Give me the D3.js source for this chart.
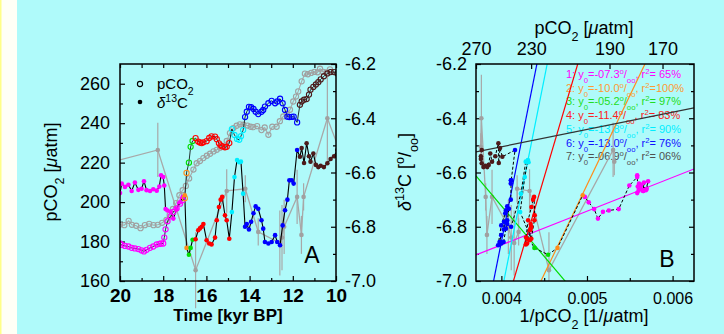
<!DOCTYPE html>
<html>
<head>
<meta charset="utf-8">
<script src="https://cdn.jsdelivr.net/npm/d3@7"></script>
<style>
  body { margin: 0; background: #affafa; }
  svg { display: block; font-family: "Liberation Sans", Arial, sans-serif; }
</style>
</head>
<body>
<svg id="chart" width="724" height="334"></svg>
<script>
// ---- values ----
// seven colour-coded intervals: time [kyr BP], pCO2 [uatm], d13C [permil]
const t1 = [20.0, 19.92, 19.77, 19.61, 19.46, 19.31, 19.15, 19.0, 18.89, 18.77, 18.61, 18.46, 18.3, 18.18, 18.1, 18.0, 17.95, 17.89, 17.8, 17.66, 17.53, 17.38, 17.22, 17.1];
const co2_1 = [179, 178.3, 177.8, 177.5, 176.8, 176.5, 176.2, 175.5, 175, 175.8, 176.8, 177.5, 178.5, 178.8, 179, 179, 182, 186.2, 190.3, 192.8, 195, 196.7, 199.2, 201];
const d13c_1 = [-6.676, -6.641, -6.653, -6.645, -6.668, -6.637, -6.664, -6.66, -6.632, -6.665, -6.668, -6.662, -6.667, -6.652, -6.61, -6.617, -6.648, -6.735, -6.74, -6.745, -6.77, -6.735, -6.71, -6.69];

const t2 = [17.0, 16.92];
const co2_2 = [202, 214.8];
const d13c_2 = [-6.684, -6.878];

const t3 = [16.81, 16.73, 16.64];
const co2_3 = [220, 228, 231];
const d13c_3 = [-6.903, -6.878, -6.848];

const t4 = [16.5, 16.38, 16.3, 16.22, 16.14, 15.99, 15.87, 15.76, 15.6, 15.52, 15.42, 15.34, 15.27, 15.14, 15.06, 14.94];
const co2_4 = [232.4, 230.7, 230.2, 229.9, 230.3, 230.9, 232.5, 233.3, 233.2, 231.9, 229.8, 228.8, 228.2, 227.8, 228, 229.9];
const d13c_4 = [-6.846, -6.813, -6.806, -6.80, -6.79, -6.85, -6.862, -6.865, -6.84, -6.776, -6.727, -6.70, -6.69, -6.758, -6.776, -6.844];

const t5 = [14.82, 14.7, 14.58, 14.48, 14.4, 14.3];
const co2_5 = [237, 234, 232, 231.6, 233.4, 236.5];
const d13c_5 = [-6.746, -6.617, -6.554, -6.562, -6.56, -6.678];

const t6 = [14.21, 14.13, 14.03, 13.93, 13.82, 13.72, 13.6, 13.45, 13.37, 13.29, 13.13, 12.98, 12.82, 12.72, 12.59, 12.47, 12.36, 12.25, 12.16, 12.05, 11.96, 11.8];
const co2_6 = [243.1, 245.8, 248.3, 248.1, 247.2, 245.8, 244.6, 245.8, 246.7, 248.4, 250.1, 251.3, 250.1, 251, 252.4, 250.1, 246.7, 243.3, 243.1, 243.2, 243.3, 240.4];
const d13c_6 = [-6.80, -6.79, -6.81, -6.782, -6.75, -6.725, -6.734, -6.776, -6.807, -6.856, -6.862, -6.856, -6.831, -6.856, -6.868, -6.795, -6.739, -6.70, -6.629, -6.629, -6.641, -6.517];

const t7 = [11.67, 11.59, 11.48, 11.36, 11.25, 11.18, 11.05, 10.93, 10.82, 10.71, 10.56, 10.4, 10.25, 10.09, 9.94];
const co2_7 = [249.3, 251, 251.9, 252.2, 254.5, 257, 258.4, 259.6, 260.8, 262.2, 263.8, 265.2, 265.9, 265.9, 265.2];
const d13c_7 = [-6.542, -6.51, -6.565, -6.492, -6.54, -6.56, -6.53, -6.572, -6.58, -6.575, -6.58, -6.566, -6.55, -6.54, -6.517];

const segColors = ["#ff00ff", "#ff8c1a", "#00dd00", "#ff0000", "#00eeff", "#0000ff", "#4d1a1a"];

// second (grey) pCO2 record
const greyCo2Time = [20.0, 19.8, 19.6, 19.45, 19.25, 19.05, 18.85, 18.65, 18.45, 18.25, 18.05, 17.85, 17.7, 17.55, 17.4, 17.25, 17.1, 16.95, 16.8, 16.6, 16.45, 16.3, 16.14, 15.98, 15.83, 15.67, 15.52, 15.37, 15.22, 15.06, 14.91, 14.75, 14.6, 14.45, 14.29, 14.1, 13.95, 13.83, 13.65, 13.45, 13.3, 13.13, 12.95, 12.75, 12.6, 12.44, 12.28, 12.13, 11.98, 11.85, 11.75, 11.59, 11.44, 11.3, 11.15, 11.0, 10.85, 10.74, 10.6, 10.45, 10.28];
const greyCo2 = [188.6, 188.3, 190.5, 188.5, 188.0, 186.8, 188.3, 189.0, 188.3, 188.5, 189.5, 191, 193.5, 196.5, 199.5, 203.5, 206, 208.2, 212, 216.5, 219.7, 220.8, 222.3, 223.5, 224.5, 225.7, 226.5, 227.5, 228.2, 231, 235, 237.5, 238.7, 239.4, 239.2, 238.8, 238.2, 238, 238.5, 236.5, 237.8, 234.1, 238.2, 238.2, 241, 243.4, 244.8, 246.8, 251, 253.5, 256.1, 261.2, 265.1, 264.8, 265.5, 266, 265.8, 267.6, 266, 265.8, 267.3];

// second (grey) d13C record with error bars, and its pCO2 for panel B
const greyD13cTime = [20.3, 18.25, 16.5, 15.06, 14.2, 13.6, 12.6, 12.5, 12.4, 11.8, 11.6, 11.5, 10.4, 9.9];
const greyD13c = [-6.56, -6.517, -6.96, -6.668, -6.66, -6.819, -6.86, -6.84, -6.80, -6.69, -6.83, -6.69, -6.40, -6.505];
const greyD13cErr = [0.05, 0.10, 0.14, 0.08, 0.05, 0.05, 0.12, 0.12, 0.10, 0.10, 0.07, 0.05, 0.16, 0.05];
const greyD13cCo2 = [188, 188.5, 219.5, 231, 239, 238, 241, 243, 245, 257, 261, 262, 265.5, 266];

// regression lines of panel B: d13C = intercept + slope * (1/pCO2)
const fitSlope = [124.5, 658.4, -372.5, 1065, 1581, 1581, 63.7];
const fitIntercept = [-7.365, -9.938, -5.233, -11.41, -13.37, -13.18, -6.760];
const fitY0Text = ["-07.3", "-10.0", "-05.2", "-11.4", "-13.8", "-13.0", "-06.9"];
const fitR2Text = [" 65", "100", " 97", " 83", " 90", " 76", " 06"];
const fitColors = ["#ff00ff", "#ff8c1a", "#00dd00", "#ff0000", "#00eeff", "#0000ff", "#333333"];
const fitTextColors = ["#ff00ff", "#ff9933", "#22dd22", "#ff2020", "#00eeff", "#1010ff", "#505050"];

const timeTicks = [20, 18, 16, 14, 12, 10];
const co2Ticks = [160, 180, 200, 220, 240, 260];
const d13cTicks = [-7.0, -6.8, -6.6, -6.4, -6.2];
const invTicks = [0.004, 0.005, 0.006];
const co2TopTicks = [270, 230, 190, 170];

const segments = [
  [t1, co2_1, d13c_1], [t2, co2_2, d13c_2], [t3, co2_3, d13c_3], [t4, co2_4, d13c_4],
  [t5, co2_5, d13c_5], [t6, co2_6, d13c_6], [t7, co2_7, d13c_7]
].map(([t, c, d], i) => ({
  color: segColors[i],
  pts: t.map((tt, j) => ({ t: tt, co2: c[j], d: d[j] }))
}));
const allPts = segments.flatMap(s => s.pts);
const greyCo2Pts = greyCo2Time.map((t, i) => ({ t: t, co2: greyCo2[i] }));
const greyD13Pts = greyD13cTime.map((t, i) => ({ t: t, d: greyD13c[i], err: greyD13cErr[i], co2: greyD13cCo2[i] }));

// ---- drawing ----
const W = 724, H = 334;
const FONT = '"Liberation Sans", Arial, sans-serif';
const svg = d3.select("#chart");

svg.append("rect").attr("width", W).attr("height", H).attr("fill", "#affafa");
svg.append("rect").attr("width", 17).attr("height", H).attr("fill", "#fffff6");
svg.append("rect").attr("width", 1.5).attr("height", H).attr("fill", "#ffff88");

// text with sub/superscripts: parts = [[string, kind]]
function rich(sel, parts) {
  parts.forEach(([s, kind]) => {
    const ts = sel.append("tspan").text(s);
    if (kind === "sub") ts.attr("baseline-shift", "sub").attr("font-size", "70%");
    if (kind === "sup") ts.attr("baseline-shift", "super").attr("font-size", "70%");
    if (kind === "it") ts.attr("font-style", "italic");
  });
  return sel;
}

function styleAxis(g, size, weight) {
  g.select(".domain").remove();
  g.attr("font-family", FONT).attr("font-size", size);
  g.selectAll("line").attr("stroke", "#000").attr("stroke-width", 1.2);
  g.selectAll("text").attr("fill", "#000").attr("font-weight", weight || "normal");
}

const A = { l: 120, r: 336, t: 64, b: 281 };
const B = { l: 476, r: 694, t: 64, b: 281 };

const xA = d3.scaleLinear().domain([20, 10]).range([A.l, A.r]);
const yCo2 = d3.scaleLinear().domain([160, 270]).range([A.b, A.t]);
const yD13 = d3.scaleLinear().domain([-7.0, -6.2]).range([A.b, A.t]);

const xB = d3.scaleLinear().domain([1 / 270, 1 / 160]).range([B.l, B.r]);
const yB = d3.scaleLinear().domain([-7.0, -6.2]).range([B.b, B.t]);

const defs = svg.append("defs");
defs.append("clipPath").attr("id", "clipA").append("rect")
  .attr("x", A.l).attr("y", A.t).attr("width", A.r - A.l).attr("height", A.b - A.t);
defs.append("clipPath").attr("id", "clipB").append("rect")
  .attr("x", B.l).attr("y", B.t).attr("width", B.r - B.l).attr("height", B.b - B.t);

const fmt1 = d => d.toFixed(1);

// ===== panel A =====
const gA = svg.append("g");

// axes
gA.append("g").attr("transform", `translate(0,${A.b})`)
  .call(d3.axisBottom(xA).tickValues(timeTicks).tickSize(-5).tickPadding(8).tickFormat(d3.format("d")))
  .call(g => styleAxis(g, 19, "bold"));
gA.append("g").attr("transform", `translate(0,${A.b})`)
  .call(d3.axisBottom(xA).tickValues(d3.range(19, 10, -2)).tickSize(-3).tickFormat(""))
  .call(g => styleAxis(g, 10));
gA.append("g").attr("transform", `translate(0,${A.t})`)
  .call(d3.axisTop(xA).tickValues(d3.range(20, 9, -1)).tickSize(-4).tickFormat(""))
  .call(g => styleAxis(g, 10));
gA.append("g").attr("transform", `translate(${A.l},0)`)
  .call(d3.axisLeft(yCo2).tickValues(co2Ticks).tickSize(-5).tickPadding(10).tickFormat(d3.format("d")))
  .call(g => styleAxis(g, 18));
gA.append("g").attr("transform", `translate(${A.l},0)`)
  .call(d3.axisLeft(yCo2).tickValues(d3.range(170, 270, 20)).tickSize(-3).tickFormat(""))
  .call(g => styleAxis(g, 10));
gA.append("g").attr("transform", `translate(${A.r},0)`)
  .call(d3.axisRight(yD13).tickValues(d13cTicks).tickSize(-5).tickPadding(9).tickFormat(fmt1))
  .call(g => styleAxis(g, 18));
gA.append("g").attr("transform", `translate(${A.r},0)`)
  .call(d3.axisRight(yD13).tickValues([-6.9, -6.7, -6.5, -6.3]).tickSize(-3).tickFormat(""))
  .call(g => styleAxis(g, 10));

// grey error bars (drawn unclipped, like the original)
gA.append("g").selectAll("line")
  .data(greyD13Pts.filter(p => p.t <= 20 && p.t >= 10))
  .join("line")
  .attr("x1", p => xA(p.t)).attr("x2", p => xA(p.t))
  .attr("y1", p => yD13(p.d - p.err)).attr("y2", p => yD13(p.d + p.err))
  .attr("stroke", "#a8a8a8").attr("stroke-width", 1.2);

const plotA = gA.append("g").attr("clip-path", "url(#clipA)");

const lineD13 = d3.line().x(p => xA(p.t)).y(p => yD13(p.d));
const lineCo2 = d3.line().x(p => xA(p.t)).y(p => yCo2(p.co2));

plotA.append("path").datum(greyD13Pts).attr("d", lineD13)
  .attr("fill", "none").attr("stroke", "#a8a8a8").attr("stroke-width", 1.3);
plotA.append("g").selectAll("circle").data(greyD13Pts).join("circle")
  .attr("cx", p => xA(p.t)).attr("cy", p => yD13(p.d)).attr("r", 2.3).attr("fill", "#a0a0a0");

plotA.append("path").datum(greyCo2Pts).attr("d", lineCo2)
  .attr("fill", "none").attr("stroke", "#a8a8a8").attr("stroke-width", 1.1);
plotA.append("g").selectAll("circle").data(greyCo2Pts).join("circle")
  .attr("cx", p => xA(p.t)).attr("cy", p => yCo2(p.co2)).attr("r", 2.6)
  .attr("fill", "none").attr("stroke", "#a0a0a0").attr("stroke-width", 1.1);

plotA.append("path").datum(allPts).attr("d", lineCo2)
  .attr("fill", "none").attr("stroke", "#000").attr("stroke-width", 0.8);
plotA.append("path").datum(allPts).attr("d", lineD13)
  .attr("fill", "none").attr("stroke", "#000").attr("stroke-width", 1.1);

segments.forEach(s => {
  plotA.append("g").selectAll("circle").data(s.pts).join("circle")
    .attr("cx", p => xA(p.t)).attr("cy", p => yCo2(p.co2)).attr("r", 2.6)
    .attr("fill", "none").attr("stroke", s.color).attr("stroke-width", 1.1);
  plotA.append("g").selectAll("circle").data(s.pts).join("circle")
    .attr("cx", p => xA(p.t)).attr("cy", p => yD13(p.d)).attr("r", 2.3)
    .attr("fill", s.color);
});

gA.append("rect").attr("x", A.l).attr("y", A.t).attr("width", A.r - A.l).attr("height", A.b - A.t)
  .attr("fill", "none").attr("stroke", "#000").attr("stroke-width", 1.5);

// legend
gA.append("circle").attr("cx", 140).attr("cy", 84).attr("r", 2.6)
  .attr("fill", "none").attr("stroke", "#000").attr("stroke-width", 1.1);
gA.append("circle").attr("cx", 140).attr("cy", 102).attr("r", 2.3).attr("fill", "#000");
rich(gA.append("text").attr("x", 157).attr("y", 89).attr("font-size", 15).attr("font-family", FONT),
  [["pCO", ""], ["2", "sub"]]);
rich(gA.append("text").attr("x", 157).attr("y", 108).attr("font-size", 15).attr("font-family", FONT),
  [["δ", "it"], ["13", "sup"], ["C", ""]]);

gA.append("text").attr("x", 312).attr("y", 263).attr("text-anchor", "middle")
  .attr("font-size", 23).attr("font-family", FONT).text("A");

gA.append("text").attr("x", 228).attr("y", 321).attr("text-anchor", "middle")
  .attr("font-size", 17).attr("font-weight", "bold").attr("font-family", FONT).text("Time [kyr BP]");
rich(gA.append("text").attr("transform", "translate(57,172) rotate(-90)").attr("text-anchor", "middle")
  .attr("font-size", 18).attr("font-family", FONT),
  [["pCO", ""], ["2", "sub"], [" [", ""], ["μ", "it"], ["atm]", ""]]);

// ===== panel B =====
const gB = svg.append("g");

gB.append("g").attr("transform", `translate(0,${B.b})`)
  .call(d3.axisBottom(xB).tickValues(invTicks).tickSize(-5).tickPadding(12).tickFormat(d3.format(".3f")))
  .call(g => styleAxis(g, 16));
gB.append("g").attr("transform", `translate(0,${B.b})`)
  .call(d3.axisBottom(xB).tickValues([0.0045, 0.0055]).tickSize(-3).tickFormat(""))
  .call(g => styleAxis(g, 10));
gB.append("g").attr("transform", `translate(0,${B.t})`)
  .call(d3.axisTop(xB).tickValues(co2TopTicks.map(v => 1 / v)).tickSize(-5).tickPadding(9)
    .tickFormat(v => Math.round(1 / v)))
  .call(g => styleAxis(g, 18));
gB.append("g").attr("transform", `translate(${B.l},0)`)
  .call(d3.axisLeft(yB).tickValues(d13cTicks).tickSize(-5).tickPadding(9).tickFormat(fmt1))
  .call(g => styleAxis(g, 18));
gB.append("g").attr("transform", `translate(${B.l},0)`)
  .call(d3.axisLeft(yB).tickValues([-6.9, -6.7, -6.5, -6.3]).tickSize(-3).tickFormat(""))
  .call(g => styleAxis(g, 10));
gB.append("g").attr("transform", `translate(${B.r},0)`)
  .call(d3.axisRight(yB).tickValues(d13cTicks).tickSize(-5).tickFormat(""))
  .call(g => styleAxis(g, 10));
gB.append("g").attr("transform", `translate(${B.r},0)`)
  .call(d3.axisRight(yB).tickValues([-6.9, -6.7, -6.5, -6.3]).tickSize(-3).tickFormat(""))
  .call(g => styleAxis(g, 10));

// legend of the fits (lines are drawn over it)
fitY0Text.forEach((y0, i) => {
  rich(gB.append("text").attr("x", 566).attr("y", 78 + i * 13.7)
    .attr("font-size", 11).attr("font-family", FONT).attr("fill", fitTextColors[i]),
    [[(i + 1) + ": y", ""], ["0", "sub"], ["=" + y0, ""], ["o", "sup"], ["/", ""], ["oo", "sub"],
     [", r", ""], ["2", "sup"], ["=" + fitR2Text[i] + "%", ""]]);
});

const plotB = gB.append("g").attr("clip-path", "url(#clipB)");

// grey record
plotB.append("g").selectAll("line").data(greyD13Pts).join("line")
  .attr("x1", p => xB(1 / p.co2)).attr("x2", p => xB(1 / p.co2))
  .attr("y1", p => yB(p.d - p.err)).attr("y2", p => yB(p.d + p.err))
  .attr("stroke", "#a8a8a8").attr("stroke-width", 1.2);
plotB.append("path").datum(greyD13Pts)
  .attr("d", d3.line().x(p => xB(1 / p.co2)).y(p => yB(p.d)))
  .attr("fill", "none").attr("stroke", "#a8a8a8").attr("stroke-width", 1.3);
plotB.append("g").selectAll("circle").data(greyD13Pts).join("circle")
  .attr("cx", p => xB(1 / p.co2)).attr("cy", p => yB(p.d)).attr("r", 2.3).attr("fill", "#a0a0a0");

// regression lines
const xd = xB.domain();
plotB.append("g").selectAll("line").data(fitSlope).join("line")
  .attr("x1", xB(xd[0])).attr("x2", xB(xd[1]))
  .attr("y1", (s, i) => yB(fitIntercept[i] + s * xd[0]))
  .attr("y2", (s, i) => yB(fitIntercept[i] + s * xd[1]))
  .attr("stroke", (s, i) => fitColors[i]).attr("stroke-width", 1.2);

// data, joined in time order by a dashed line
plotB.append("path").datum(allPts)
  .attr("d", d3.line().x(p => xB(1 / p.co2)).y(p => yB(p.d)))
  .attr("fill", "none").attr("stroke", "#000").attr("stroke-width", 1)
  .attr("stroke-dasharray", "3,2");
segments.forEach(s => {
  plotB.append("g").selectAll("circle").data(s.pts).join("circle")
    .attr("cx", p => xB(1 / p.co2)).attr("cy", p => yB(p.d)).attr("r", 2.3)
    .attr("fill", s.color);
});

gB.append("rect").attr("x", B.l).attr("y", B.t).attr("width", B.r - B.l).attr("height", B.b - B.t)
  .attr("fill", "none").attr("stroke", "#000").attr("stroke-width", 1.5);

gB.append("text").attr("x", 667).attr("y", 267).attr("text-anchor", "middle")
  .attr("font-size", 23).attr("font-family", FONT).text("B");

rich(gB.append("text").attr("x", 584).attr("y", 322).attr("text-anchor", "middle")
  .attr("font-size", 18).attr("font-family", FONT),
  [["1/pCO", ""], ["2", "sub"], [" [1/", ""], ["μ", "it"], ["atm]", ""]]);
rich(gB.append("text").attr("x", 584).attr("y", 34).attr("text-anchor", "middle")
  .attr("font-size", 18).attr("font-family", FONT),
  [["pCO", ""], ["2", "sub"], [" [", ""], ["μ", "it"], ["atm]", ""]]);
rich(gB.append("text").attr("transform", "translate(411,172) rotate(-90)").attr("text-anchor", "middle")
  .attr("font-size", 18).attr("font-family", FONT),
  [["δ", "it"], ["13", "sup"], ["C [", ""], ["o", "sup"], ["/", ""], ["oo", "sub"], ["]", ""]]);
</script>
</body>
</html>
